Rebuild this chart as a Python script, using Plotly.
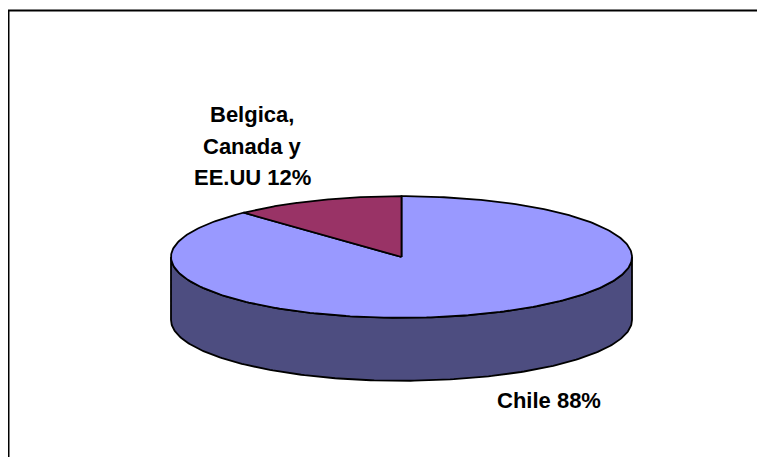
import numpy as np
import plotly.graph_objects as go

# data
labels = ["Chile", "Belgica, Canada y EE.UU"]
values = [88, 12]
label_lines = [["Chile 88%"], ["Belgica,", "Canada y", "EE.UU 12%"]]
top_colors = ["#9999ff", "#993366"]
side_colors = ["#4d4d80", "#4d1a33"]

# page body has an 8px margin, so the figure fills 757x449 of the window
W, H = 757, 449
cx, cy = 393.5, 249      # centre of top face (pixels)
rx, ry = 230.5, 60.8     # ellipse radii
depth = 63               # thickness of the pie

def pt(theta, dy=0):
    # theta clockwise from 12 o'clock, in radians
    return cx + rx * np.sin(theta), cy - ry * np.cos(theta) + dy

fig = go.Figure()

total = float(sum(values))
bounds = np.concatenate([[0], np.cumsum(values) / total * 2 * np.pi])

# front wall (lower half of rim), coloured per slice where visible
for i in range(len(values)):
    a0 = max(bounds[i], np.pi / 2)
    a1 = min(bounds[i + 1], 3 * np.pi / 2)
    if a1 <= a0:
        continue
    t = np.linspace(a0, a1, 200)
    xt, yt = pt(t)
    xb, yb = pt(t[::-1], depth)
    fig.add_trace(go.Scatter(
        x=np.concatenate([xt, xb, xt[:1]]), y=np.concatenate([yt, yb, yt[:1]]),
        mode="lines", fill="toself", fillcolor=side_colors[i],
        line=dict(color="black", width=1.8), hoverinfo="skip", showlegend=False))

# top face slices
for i in range(len(values)):
    t = np.linspace(bounds[i], bounds[i + 1], 300)
    xs, ys = pt(t)
    fig.add_trace(go.Scatter(
        x=np.concatenate([[cx], xs, [cx]]), y=np.concatenate([[cy], ys, [cy]]),
        mode="lines", fill="toself", fillcolor=top_colors[i],
        line=dict(color="black", width=1.8), name=labels[i],
        hoverinfo="name", showlegend=False))

# data labels
label_pos = [(540.5, 392, 0), (244, 106.5, 31.5)]
for lines, (lx, ly, step) in zip(label_lines, label_pos):
    for k, txt in enumerate(lines):
        fig.add_annotation(x=lx, y=ly + k * step, text="<b>%s</b>" % txt,
                           showarrow=False, xanchor="center", yanchor="middle",
                           font=dict(family="Arial, Liberation Sans", size=22, color="black"))

# chart area border (only top and left edges fall inside the picture)
fig.add_shape(type="rect", x0=0.5, y0=2.5, x1=W + 20, y1=H + 20,
              line=dict(color="black", width=2), layer="above")

fig.update_layout(
    width=W, height=H, margin=dict(l=0, r=0, t=0, b=0),
    paper_bgcolor="white", plot_bgcolor="white",
    xaxis=dict(range=[0, W], visible=False, fixedrange=True),
    yaxis=dict(range=[H, 0], visible=False, fixedrange=True),
)

fig.write_html("out.html")
